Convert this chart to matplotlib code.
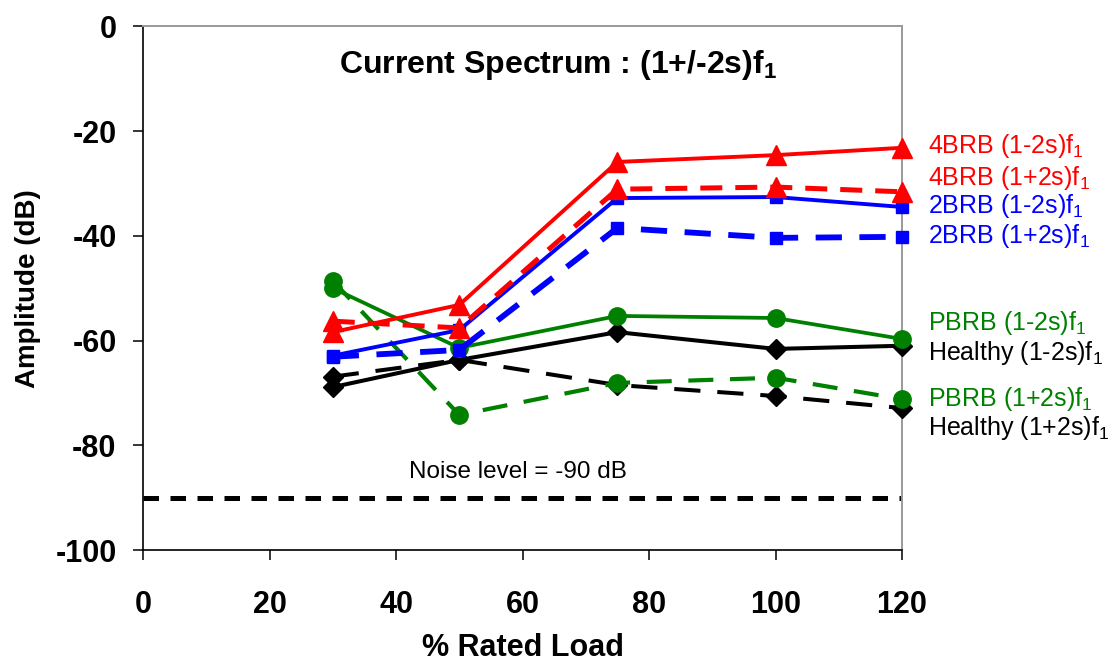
import matplotlib
matplotlib.use("Agg")
import matplotlib.pyplot as plt

plt.rcParams['font.family'] = ['Liberation Sans', 'DejaVu Sans']
plt.rcParams['mathtext.fontset'] = 'custom'
plt.rcParams['mathtext.rm'] = 'Liberation Sans'
plt.rcParams['mathtext.bf'] = 'Liberation Sans:bold'
plt.rcParams['axes.unicode_minus'] = False

# ---- data ----
load = [30, 50, 75, 100, 120]
brb4_minus = [-58.4, -53.2, -25.9, -24.6, -23.2]   # 4BRB (1-2s)f1
brb4_plus = [-56.3, -57.6, -31.1, -30.7, -31.6]    # 4BRB (1+2s)f1
brb2_minus = [-62.9, -58.0, -32.8, -32.6, -34.5]   # 2BRB (1-2s)f1
brb2_plus = [-63.1, -61.8, -38.5, -40.4, -40.2]    # 2BRB (1+2s)f1
pbrb_minus = [-50.0, -61.4, -55.3, -55.7, -59.7]   # PBRB (1-2s)f1
pbrb_plus = [-48.6, -74.2, -68.1, -67.1, -71.2]    # PBRB (1+2s)f1
healthy_minus = [-68.9, -63.7, -58.4, -61.6, -61.0]  # Healthy (1-2s)f1
healthy_plus = [-66.9, -63.7, -68.5, -70.6, -72.9]   # Healthy (1+2s)f1
noise_level = -90
noise_x = [0, 120]

xticks = [0, 20, 40, 60, 80, 100, 120]
yticks = [0, -20, -40, -60, -80, -100]

labels = [
    ("4BRB (1-2s)f$_1$", -22.9, 'red'),
    ("4BRB (1+2s)f$_1$", -29.0, 'red'),
    ("2BRB (1-2s)f$_1$", -34.3, 'blue'),
    ("2BRB (1+2s)f$_1$", -40.1, 'blue'),
    ("PBRB (1-2s)f$_1$", -56.7, 'green'),
    ("Healthy (1-2s)f$_1$", -62.4, 'black'),
    ("PBRB (1+2s)f$_1$", -71.2, 'green'),
    ("Healthy (1+2s)f$_1$", -76.7, 'black'),
]

fig = plt.figure(figsize=(11.18, 6.62), dpi=100)
ax = fig.add_axes([143/1118, 112/662, (902-143)/1118, (550-26.3)/662])

# noise line
ax.plot(noise_x, [noise_level, noise_level], color='black', lw=3.6,
        dashes=(3.1, 2.3), solid_capstyle='butt', dash_capstyle='butt', zorder=2)

common = dict(clip_on=False)
# Healthy
ax.plot(load, healthy_plus, color='black', lw=2.9, dashes=(6.5, 4.2),
        marker='D', ms=10, zorder=3, **common)
ax.plot(load, healthy_minus, color='black', lw=2.9, marker='D', ms=10, zorder=3, **common)
# PBRB
ax.plot(load, pbrb_plus, color='green', lw=3.0, dashes=(6.0, 4.0),
        marker='o', ms=12.5, zorder=4, **common)
ax.plot(load, pbrb_minus, color='green', lw=2.7, marker='o', ms=12.5, zorder=4, **common)
# 2BRB
ax.plot(load, brb2_plus, color='blue', lw=4.2, dashes=(4.5, 3.0),
        marker='s', ms=8.5, zorder=5, **common)
ax.plot(load, brb2_minus, color='blue', lw=2.8, marker='s', ms=8.5, zorder=5, **common)
# 4BRB
ax.plot(load, brb4_plus, color='red', lw=3.6, dashes=(4.4, 2.6),
        marker='^', ms=15, zorder=6, **common)
ax.plot(load, brb4_minus, color='red', lw=2.8, marker='^', ms=15, zorder=6, **common)

ax.set_xlim(0, 120)
ax.set_ylim(-100, 0)
ax.set_xticks(xticks)
ax.set_yticks(yticks)
ax.set_xticklabels([str(v) for v in xticks], fontsize=22, fontweight='bold')
ax.set_yticklabels([str(v) for v in yticks], fontsize=22, fontweight='bold')
ax.tick_params(axis='x', direction='out', length=7, width=1.1, pad=22)
ax.tick_params(axis='y', direction='out', length=7, width=1.1, pad=12)

for s in ['left', 'bottom']:
    ax.spines[s].set_color('black')
    ax.spines[s].set_linewidth(1.2)
for s in ['top', 'right']:
    ax.spines[s].set_color('#999999')
    ax.spines[s].set_linewidth(1.4)

ax.set_xlabel('% Rated Load', fontsize=22, fontweight='bold', labelpad=9)
ax.set_ylabel('Amplitude (dB)', fontsize=20, fontweight='bold', labelpad=10)

ax.text(65.6, -7.4, r'Current Spectrum : (1+/-2s)f$_\mathbf{1}$', fontsize=23,
        fontweight='bold', ha='center', va='center')
ax.text(42, -85.1, 'Noise level = -90 dB', fontsize=17.5, ha='left', va='center')

for txt, yy, col in labels:
    ax.text(124.1, yy, txt, fontsize=18, color=col, ha='left', va='center',
            clip_on=False)

fig.savefig('out.png', dpi=100)
